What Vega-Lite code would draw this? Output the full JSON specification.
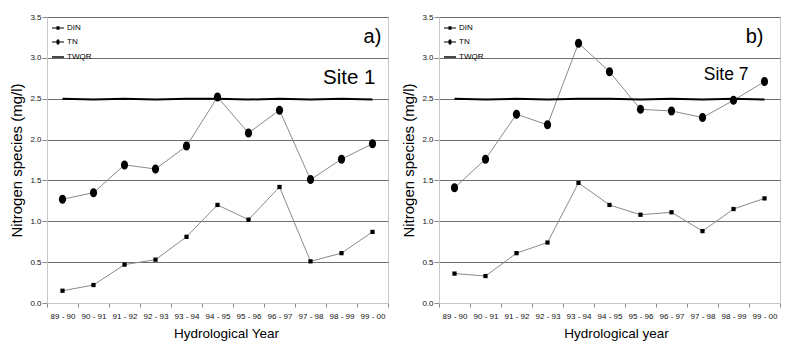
{
  "$schema": "https://vega.github.io/schema/vega-lite/v6.json",
  "padding": {"left": 9, "top": 12, "right": 5, "bottom": 5},
  "spacing": 12,
  "config": {
    "font": "Liberation Sans",
    "view": {"stroke": "#c8c8c8", "strokeWidth": 1},
    "axis": {"labelColor": "#111", "titleColor": "#000", "titleFontWeight": "normal", "domainColor": "#c8c8c8", "tickColor": "#888"}
  },
  "data": {"values": [
    {"site": "Site 1", "year": "89 - 90", "series": "DIN", "value": 0.15},
    {"site": "Site 1", "year": "90 - 91", "series": "DIN", "value": 0.22},
    {"site": "Site 1", "year": "91 - 92", "series": "DIN", "value": 0.47},
    {"site": "Site 1", "year": "92 - 93", "series": "DIN", "value": 0.53},
    {"site": "Site 1", "year": "93 - 94", "series": "DIN", "value": 0.81},
    {"site": "Site 1", "year": "94 - 95", "series": "DIN", "value": 1.20},
    {"site": "Site 1", "year": "95 - 96", "series": "DIN", "value": 1.02},
    {"site": "Site 1", "year": "96 - 97", "series": "DIN", "value": 1.42},
    {"site": "Site 1", "year": "97 - 98", "series": "DIN", "value": 0.51},
    {"site": "Site 1", "year": "98 - 99", "series": "DIN", "value": 0.61},
    {"site": "Site 1", "year": "99 - 00", "series": "DIN", "value": 0.87},
    {"site": "Site 1", "year": "89 - 90", "series": "TN", "value": 1.27},
    {"site": "Site 1", "year": "90 - 91", "series": "TN", "value": 1.35},
    {"site": "Site 1", "year": "91 - 92", "series": "TN", "value": 1.69},
    {"site": "Site 1", "year": "92 - 93", "series": "TN", "value": 1.64},
    {"site": "Site 1", "year": "93 - 94", "series": "TN", "value": 1.92},
    {"site": "Site 1", "year": "94 - 95", "series": "TN", "value": 2.52},
    {"site": "Site 1", "year": "95 - 96", "series": "TN", "value": 2.08},
    {"site": "Site 1", "year": "96 - 97", "series": "TN", "value": 2.36},
    {"site": "Site 1", "year": "97 - 98", "series": "TN", "value": 1.51},
    {"site": "Site 1", "year": "98 - 99", "series": "TN", "value": 1.76},
    {"site": "Site 1", "year": "99 - 00", "series": "TN", "value": 1.95},
    {"site": "Site 1", "year": "89 - 90", "series": "TWQR", "value": 2.5},
    {"site": "Site 1", "year": "90 - 91", "series": "TWQR", "value": 2.49},
    {"site": "Site 1", "year": "91 - 92", "series": "TWQR", "value": 2.5},
    {"site": "Site 1", "year": "92 - 93", "series": "TWQR", "value": 2.49},
    {"site": "Site 1", "year": "93 - 94", "series": "TWQR", "value": 2.5},
    {"site": "Site 1", "year": "94 - 95", "series": "TWQR", "value": 2.5},
    {"site": "Site 1", "year": "95 - 96", "series": "TWQR", "value": 2.49},
    {"site": "Site 1", "year": "96 - 97", "series": "TWQR", "value": 2.5},
    {"site": "Site 1", "year": "97 - 98", "series": "TWQR", "value": 2.49},
    {"site": "Site 1", "year": "98 - 99", "series": "TWQR", "value": 2.5},
    {"site": "Site 1", "year": "99 - 00", "series": "TWQR", "value": 2.49},
    {"site": "Site 7", "year": "89 - 90", "series": "DIN", "value": 0.36},
    {"site": "Site 7", "year": "90 - 91", "series": "DIN", "value": 0.33},
    {"site": "Site 7", "year": "91 - 92", "series": "DIN", "value": 0.61},
    {"site": "Site 7", "year": "92 - 93", "series": "DIN", "value": 0.74},
    {"site": "Site 7", "year": "93 - 94", "series": "DIN", "value": 1.47},
    {"site": "Site 7", "year": "94 - 95", "series": "DIN", "value": 1.20},
    {"site": "Site 7", "year": "95 - 96", "series": "DIN", "value": 1.08},
    {"site": "Site 7", "year": "96 - 97", "series": "DIN", "value": 1.11},
    {"site": "Site 7", "year": "97 - 98", "series": "DIN", "value": 0.88},
    {"site": "Site 7", "year": "98 - 99", "series": "DIN", "value": 1.15},
    {"site": "Site 7", "year": "99 - 00", "series": "DIN", "value": 1.28},
    {"site": "Site 7", "year": "89 - 90", "series": "TN", "value": 1.41},
    {"site": "Site 7", "year": "90 - 91", "series": "TN", "value": 1.76},
    {"site": "Site 7", "year": "91 - 92", "series": "TN", "value": 2.31},
    {"site": "Site 7", "year": "92 - 93", "series": "TN", "value": 2.18},
    {"site": "Site 7", "year": "93 - 94", "series": "TN", "value": 3.18},
    {"site": "Site 7", "year": "94 - 95", "series": "TN", "value": 2.83},
    {"site": "Site 7", "year": "95 - 96", "series": "TN", "value": 2.37},
    {"site": "Site 7", "year": "96 - 97", "series": "TN", "value": 2.35},
    {"site": "Site 7", "year": "97 - 98", "series": "TN", "value": 2.27},
    {"site": "Site 7", "year": "98 - 99", "series": "TN", "value": 2.48},
    {"site": "Site 7", "year": "99 - 00", "series": "TN", "value": 2.71},
    {"site": "Site 7", "year": "89 - 90", "series": "TWQR", "value": 2.5},
    {"site": "Site 7", "year": "90 - 91", "series": "TWQR", "value": 2.49},
    {"site": "Site 7", "year": "91 - 92", "series": "TWQR", "value": 2.5},
    {"site": "Site 7", "year": "92 - 93", "series": "TWQR", "value": 2.49},
    {"site": "Site 7", "year": "93 - 94", "series": "TWQR", "value": 2.5},
    {"site": "Site 7", "year": "94 - 95", "series": "TWQR", "value": 2.5},
    {"site": "Site 7", "year": "95 - 96", "series": "TWQR", "value": 2.49},
    {"site": "Site 7", "year": "96 - 97", "series": "TWQR", "value": 2.5},
    {"site": "Site 7", "year": "97 - 98", "series": "TWQR", "value": 2.49},
    {"site": "Site 7", "year": "98 - 99", "series": "TWQR", "value": 2.5},
    {"site": "Site 7", "year": "99 - 00", "series": "TWQR", "value": 2.49}
  ]},
  "resolve": {"scale": {"shape": "independent"}, "legend": {"shape": "independent"}},
  "hconcat": [
    {
      "width": 341, "height": 286,
      "transform": [{"filter": "datum.site === 'Site 1'"}],
      "encoding": {
        "x": {"field": "year", "type": "ordinal", "scale": {"type": "band", "paddingInner": 0, "paddingOuter": 0},
          "axis": {"title": "Hydrological Year", "titleFontSize": 13.5, "titlePadding": 6, "titleX": 179, "labelAngle": 0, "labelFontSize": 8, "labelPadding": 5, "tickSize": 4, "tickBand": "extent", "grid": false}},
        "y": {"field": "value", "type": "quantitative", "scale": {"domain": [0, 3.5], "nice": false},
          "axis": {"title": "Nitrogen species (mg/l)", "titleFontSize": 15, "titlePadding": 5, "values": [0, 0.5, 1, 1.5, 2, 2.5, 3, 3.5], "format": ".1f", "labelFontSize": 8, "labelPadding": 1, "tickSize": 5,
            "grid": true, "gridColor": {"condition": {"test": "datum.value === 0", "value": "#c8c8c8"}, "value": "#6e6e6e"}}}
      },
      "layer": [
        {"transform": [{"filter": "datum.series !== 'TWQR'"}], "mark": {"type": "line", "color": "#8a8a8a", "strokeWidth": 1}, "encoding": {"detail": {"field": "series"}}},
        {"transform": [{"filter": "datum.series === 'TWQR'"}], "mark": {"type": "line", "color": "#000", "strokeWidth": 2}, "encoding": {}},
        {"transform": [{"filter": "datum.series === 'DIN'"}], "mark": {"type": "point", "shape": "square", "filled": true, "color": "#000", "opacity": 1, "size": 18}, "encoding": {}},
        {"transform": [{"filter": "datum.series === 'TN'"}], "mark": {"type": "point", "shape": "M0,-1A0.8,1,0,1,1,0,1A0.8,1,0,1,1,0,-1Z", "filled": true, "color": "#000", "opacity": 1, "size": 81}, "encoding": {}},
        {"mark": {"type": "point", "filled": true, "color": "#000", "opacity": 0, "size": 144},
          "encoding": {"shape": {"field": "series", "type": "nominal",
            "scale": {"domain": ["DIN", "TN", "TWQR"], "range": ["M-1,-0.07H1V0.07H-1ZM-0.25,-0.3H0.25V0.3H-0.25Z", "M-1,-0.07H1V0.07H-1ZM0,-0.45A0.28,0.45,0,1,1,0,0.45A0.28,0.45,0,1,1,0,-0.45Z", "M-1,-0.12H1V0.12H-1Z"]},
            "legend": {"title": null, "orient": "top-left", "offset": 4, "padding": 0, "symbolSize": 144, "symbolFillColor": "#000", "symbolOpacity": 1, "labelFontSize": 8, "labelColor": "#000", "labelOffset": 2, "rowPadding": 2}}}},
        {"transform": [{"filter": "datum.series === 'TWQR' && datum.year === '99 - 00'"}], "mark": {"type": "text", "text": "a)", "fontSize": 20, "align": "center", "baseline": "middle", "color": "#000"},
          "encoding": {"x": {"field": "year", "type": "ordinal"}, "y": {"datum": 3.26}}},
        {"transform": [{"filter": "datum.series === 'TWQR' && datum.year === '99 - 00'"}], "mark": {"type": "text", "text": "Site 1", "fontSize": 20.5, "align": "right", "baseline": "middle", "dx": 3, "color": "#000"},
          "encoding": {"x": {"field": "year", "type": "ordinal"}, "y": {"datum": 2.75}}}
      ]
    },
    {
      "width": 341, "height": 286,
      "transform": [{"filter": "datum.site === 'Site 7'"}],
      "encoding": {
        "x": {"field": "year", "type": "ordinal", "scale": {"type": "band", "paddingInner": 0, "paddingOuter": 0},
          "axis": {"title": "Hydrological year", "titleFontSize": 13.5, "titlePadding": 6, "titleX": 177, "labelAngle": 0, "labelFontSize": 8, "labelPadding": 5, "tickSize": 4, "tickBand": "extent", "grid": false}},
        "y": {"field": "value", "type": "quantitative", "scale": {"domain": [0, 3.5], "nice": false},
          "axis": {"title": "Nitrogen species (mg/l)", "titleFontSize": 15, "titlePadding": 5, "values": [0, 0.5, 1, 1.5, 2, 2.5, 3, 3.5], "format": ".1f", "labelFontSize": 8, "labelPadding": 1, "tickSize": 5,
            "grid": true, "gridColor": {"condition": {"test": "datum.value === 0", "value": "#c8c8c8"}, "value": "#6e6e6e"}}}
      },
      "layer": [
        {"transform": [{"filter": "datum.series !== 'TWQR'"}], "mark": {"type": "line", "color": "#8a8a8a", "strokeWidth": 1}, "encoding": {"detail": {"field": "series"}}},
        {"transform": [{"filter": "datum.series === 'TWQR'"}], "mark": {"type": "line", "color": "#000", "strokeWidth": 2}, "encoding": {}},
        {"transform": [{"filter": "datum.series === 'DIN'"}], "mark": {"type": "point", "shape": "square", "filled": true, "color": "#000", "opacity": 1, "size": 18}, "encoding": {}},
        {"transform": [{"filter": "datum.series === 'TN'"}], "mark": {"type": "point", "shape": "M0,-1A0.8,1,0,1,1,0,1A0.8,1,0,1,1,0,-1Z", "filled": true, "color": "#000", "opacity": 1, "size": 81}, "encoding": {}},
        {"mark": {"type": "point", "filled": true, "color": "#000", "opacity": 0, "size": 144},
          "encoding": {"shape": {"field": "series", "type": "nominal",
            "scale": {"domain": ["DIN", "TN", "TWQR"], "range": ["M-1,-0.07H1V0.07H-1ZM-0.25,-0.3H0.25V0.3H-0.25Z", "M-1,-0.07H1V0.07H-1ZM0,-0.45A0.28,0.45,0,1,1,0,0.45A0.28,0.45,0,1,1,0,-0.45Z", "M-1,-0.12H1V0.12H-1Z"]},
            "legend": {"title": null, "orient": "top-left", "offset": 4, "padding": 0, "symbolSize": 144, "symbolFillColor": "#000", "symbolOpacity": 1, "labelFontSize": 8, "labelColor": "#000", "labelOffset": 2, "rowPadding": 2}}}},
        {"transform": [{"filter": "datum.series === 'TWQR' && datum.year === '99 - 00'"}], "mark": {"type": "text", "text": "b)", "fontSize": 20, "align": "right", "baseline": "middle", "dx": -1, "color": "#000"},
          "encoding": {"x": {"field": "year", "type": "ordinal"}, "y": {"datum": 3.26}}},
        {"transform": [{"filter": "datum.series === 'TWQR' && datum.year === '99 - 00'"}], "mark": {"type": "text", "text": "Site 7", "fontSize": 17.5, "align": "right", "baseline": "middle", "dx": -16, "color": "#000"},
          "encoding": {"x": {"field": "year", "type": "ordinal"}, "y": {"datum": 2.79}}}
      ]
    }
  ]
}
